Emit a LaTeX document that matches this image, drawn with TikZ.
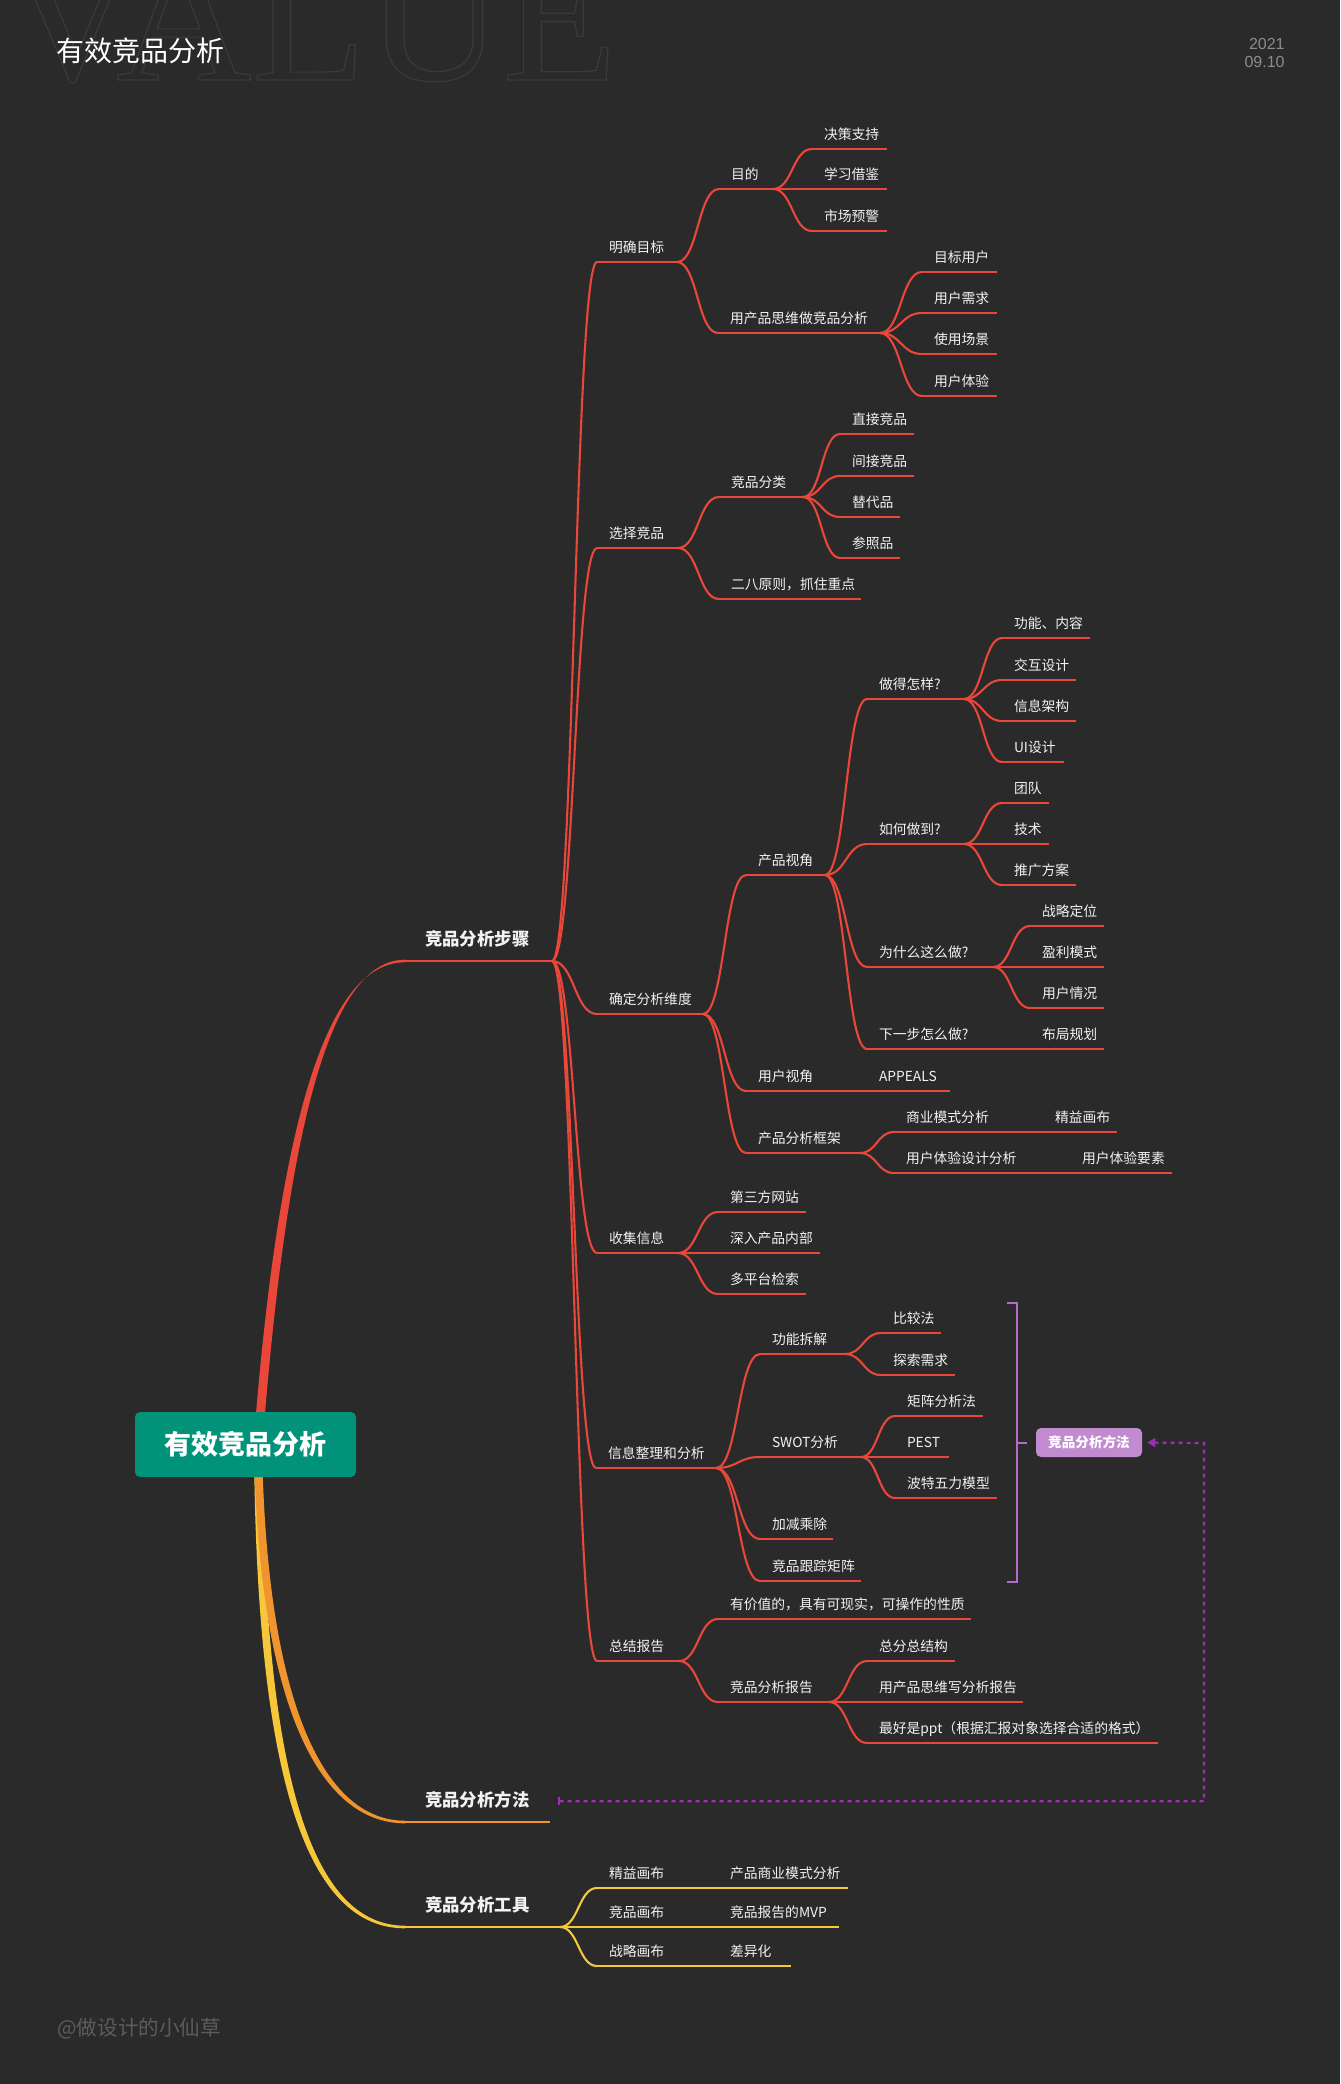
\documentclass[tikz,border=0pt]{standalone}
\usepackage{fontspec}
\newfontfamily\cjk{Noto Sans CJK SC}
\newfontfamily\valfont{Liberation Serif}
\newfontfamily\numfont{Liberation Sans}
\usetikzlibrary{calc,arrows.meta}
\hyphenpenalty=10000
\exhyphenpenalty=10000
\definecolor{bg}{HTML}{2A2A2A}
\definecolor{cred}{HTML}{E8473A}
\definecolor{corange}{HTML}{F0952E}
\definecolor{cyel}{HTML}{F7C73A}
\definecolor{tx}{HTML}{F2F2F2}
\definecolor{rootg}{HTML}{00937A}
\definecolor{lav}{HTML}{C28BD0}
\definecolor{brk}{HTML}{B56BC7}
\definecolor{dotp}{HTML}{9E2FB5}
\definecolor{valc}{HTML}{3A3A3A}
\tikzset{
 mm/.style={anchor=south west, inner xsep=6pt, inner ysep=0pt, outer sep=0pt, align=left,
   text height=7pt, text depth=4.9pt, text=tx,
   font=\cjk\fontsize{6.9}{8}\selectfont},
 mmone/.style={anchor=south west, inner xsep=10pt, inner ysep=0pt, outer sep=0pt, align=left,
   text height=13pt, text depth=7.7pt, text=tx,
   font=\cjk\bfseries\fontsize{8.7}{10}\selectfont},
 ln/.style={line width=1.05pt},
 sc/.style={to path={let \p1=(\tikztostart), \p2=(\tikztotarget) in
   .. controls ({(\x1+\x2)/2},\y1) and ({(\x1+\x2)/2},\y2) .. (\tikztotarget)}},
}
\newcommand\mn[6]{\pgfmathsetmacro\mytw{(#4-#3)*0.5-12}%
 \node[mm, text width=\mytw pt] (#2) at (#3,#5) {#6};
 \draw[ln,draw=#1] (#2.south west) -- (#2.south east);}
\newcommand\mnone[6]{\pgfmathsetmacro\mytw{(#4-#3)*0.5-20}%
 \node[mmone, text width=\mytw pt] (#2) at (#3,#5) {#6};
 \draw[line width=1.3pt,draw=#1] (#2.south west) -- (#2.south east);}
\newcommand\cn[3]{\draw[ln,draw=#1] (#2.south east) to[sc] (#3.south west);}
\begin{document}
\begin{tikzpicture}[x=0.5pt,y=-0.5pt]
\fill[bg] (0,0) rectangle (1340,2084);
\useasboundingbox (0,0) rectangle (1340,2084);
% background lettering
\node[anchor=base west, inner sep=0pt, text=valc] (val) at (4,80)
  {\valfont\fontsize{94}{94}\selectfont\special{pdf:literal direct 1 Tr 0.6 w}VALUE\special{pdf:literal direct 0 Tr}};
% header
\node[anchor=west, inner sep=0pt, text=white, font=\cjk\fontsize{14}{16}\selectfont] (title) at (56,51) {有效竞品分析};
\node[anchor=east, inner sep=0pt, text={rgb,255:red,140;green,140;blue,140}, font=\numfont\fontsize{8}{9}\selectfont] (yr) at (1285,44) {2021};
\node[anchor=east, inner sep=0pt, text={rgb,255:red,140;green,140;blue,140}, font=\numfont\fontsize{8}{9}\selectfont] (dt) at (1285,62) {09.10};
\node[anchor=west, inner sep=0pt, text={rgb,255:red,92;green,92;blue,92}, font=\cjk\fontsize{10.3}{12}\selectfont] (foot) at (57,2029) {@做设计的小仙草};

% level 1
\mnone{cred}{s}{405}{552}{961}{竞品分析步骤}
\mnone{corange}{m}{405}{550}{1822}{竞品分析方法}
\mnone{cyel}{t}{405}{560}{1927}{竞品分析工具}

% root + tapered trunks
\coordinate (rc) at (245.5,1444.5);
\fill[cyel] ($(rc)+(8.5,0)$) .. controls (256,1782) and (308,1928.3) .. ($(t.south west)+(0,1.3)$)
   -- ($(t.south west)+(0,-1.3)$) .. controls (312,1925.7) and (264,1778) .. ($(rc)+(16.5,0)$) -- cycle;
\fill[corange] ($(rc)+(8.5,0)$) .. controls (258,1702) and (318,1823.3) .. ($(m.south west)+(0,1.3)$)
   -- ($(m.south west)+(0,-1.3)$) .. controls (322,1820.7) and (266,1698) .. ($(rc)+(16.5,0)$) -- cycle;
\fill[cred] ($(rc)+(8,0)$) .. controls (280,1100) and (332,962.3) .. ($(s.south west)+(0,1.3)$)
   -- ($(s.south west)+(0,-1.3)$) .. controls (336,959.7) and (289,1100) .. ($(rc)+(17,0)$) -- cycle;
\node[fill=rootg, rounded corners=2.5pt, minimum width=110.5pt, minimum height=32.5pt, inner sep=0pt,
  text=white, font=\cjk\bfseries\fontsize{13.5}{15}\selectfont] (root) at (rc) {有效竞品分析};

% 明确目标
\mn{cred}{a}{597}{677}{262}{明确目标}
\mn{cred}{a1}{719}{773}{189}{目的}
\mn{cred}{a11}{812}{887}{149}{决策支持}
\mn{cred}{a12}{812}{887}{189}{学习借鉴}
\mn{cred}{a13}{812}{887}{231}{市场预警}
\mn{cred}{a2}{718}{880}{333}{用产品思维做竞品分析}
\mn{cred}{a21}{922}{997}{272}{目标用户}
\mn{cred}{a22}{922}{997}{313}{用户需求}
\mn{cred}{a23}{922}{997}{354}{使用场景}
\mn{cred}{a24}{922}{997}{396}{用户体验}
% 选择竞品
\mn{cred}{b}{597}{678}{548}{选择竞品}
\mn{cred}{b1}{719}{803}{497}{竞品分类}
\mn{cred}{b11}{840}{914}{434}{直接竞品}
\mn{cred}{b12}{840}{914}{476}{间接竞品}
\mn{cred}{b13}{840}{900}{517}{替代品}
\mn{cred}{b14}{840}{900}{558}{参照品}
\mn{cred}{b2}{719}{861}{599}{二八原则，抓住重点}
% 确定分析维度
\mn{cred}{c}{597}{703}{1014}{确定分析维度}
\mn{cred}{c1}{746}{825}{875}{产品视角}
\mn{cred}{c11}{867}{964}{699}{做得怎样?}
\mn{cred}{c111}{1002}{1090}{638}{功能、内容}
\mn{cred}{c112}{1002}{1076}{680}{交互设计}
\mn{cred}{c113}{1002}{1076}{721}{信息架构}
\mn{cred}{c114}{1002}{1064}{762}{UI设计}
\mn{cred}{c12}{867}{964}{844}{如何做到?}
\mn{cred}{c121}{1002}{1049}{803}{团队}
\mn{cred}{c122}{1002}{1049}{844}{技术}
\mn{cred}{c123}{1002}{1076}{885}{推广方案}
\mn{cred}{c13}{867}{993}{967}{为什么这么做?}
\mn{cred}{c131}{1030}{1104}{926}{战略定位}
\mn{cred}{c132}{1030}{1104}{967}{盈利模式}
\mn{cred}{c133}{1030}{1104}{1008}{用户情况}
\mn{cred}{c14}{867}{1000}{1049}{下一步怎么做?}
\mn{cred}{c141}{1030}{1104}{1049}{布局规划}
\mn{cred}{c2}{746}{825}{1091}{用户视角}
\mn{cred}{c21}{867}{950}{1091}{APPEALS}
\mn{cred}{c3}{746}{860}{1153}{产品分析框架}
\mn{cred}{c31}{894}{1010}{1132}{商业模式分析}
\mn{cred}{c311}{1043}{1117}{1132}{精益画布}
\mn{cred}{c32}{894}{1040}{1173}{用户体验设计分析}
\mn{cred}{c321}{1070}{1172}{1173}{用户体验要素}
% 收集信息
\mn{cred}{d}{597}{678}{1253}{收集信息}
\mn{cred}{d1}{718}{806}{1212}{第三方网站}
\mn{cred}{d2}{718}{820}{1253}{深入产品内部}
\mn{cred}{d3}{718}{806}{1294}{多平台检索}
% 信息整理和分析
\mn{cred}{e}{596}{716}{1468}{信息整理和分析}
\mn{cred}{e1}{760}{845}{1354}{功能拆解}
\mn{cred}{e11}{881}{941}{1333}{比较法}
\mn{cred}{e12}{881}{955}{1375}{探索需求}
\mn{cred}{e2}{760}{861}{1457}{SWOT分析}
\mn{cred}{e21}{895}{983}{1416}{矩阵分析法}
\mn{cred}{e22}{895}{949}{1457}{PEST}
\mn{cred}{e23}{895}{997}{1498}{波特五力模型}
\mn{cred}{e3}{760}{833}{1539}{加减乘除}
\mn{cred}{e4}{760}{861}{1581}{竞品跟踪矩阵}
% 总结报告
\mn{cred}{f}{597}{679}{1661}{总结报告}
\mn{cred}{f1}{718}{971}{1619}{有价值的，具有可现实，可操作的性质}
\mn{cred}{f2}{718}{829}{1702}{竞品分析报告}
\mn{cred}{f21}{867}{955}{1661}{总分总结构}
\mn{cred}{f22}{867}{1023}{1702}{用产品思维写分析报告}
\mn{cred}{f23}{867}{1158}{1743}{最好是ppt（根据汇报对象选择合适的格式）}
% 工具
\mn{cyel}{t1}{597}{680}{1888}{精益画布}
\mn{cyel}{t11}{718}{848}{1888}{产品商业模式分析}
\mn{cyel}{t2}{597}{680}{1927}{竞品画布}
\mn{cyel}{t21}{718}{839}{1927}{竞品报告的MVP}
\mn{cyel}{t3}{597}{680}{1966}{战略画布}
\mn{cyel}{t31}{718}{791}{1966}{差异化}

% connectors
\foreach \pa/\ch in {s/a,s/b,s/c,s/d,s/e,s/f,
  a/a1,a/a2,a1/a11,a1/a12,a1/a13,a2/a21,a2/a22,a2/a23,a2/a24,
  b/b1,b/b2,b1/b11,b1/b12,b1/b13,b1/b14,
  c/c1,c/c2,c/c3,c1/c11,c1/c12,c1/c13,c1/c14,
  c11/c111,c11/c112,c11/c113,c11/c114,c12/c121,c12/c122,c12/c123,
  c13/c131,c13/c132,c13/c133,c14/c141,c2/c21,c3/c31,c3/c32,c31/c311,c32/c321,
  d/d1,d/d2,d/d3,e/e1,e/e2,e/e3,e/e4,e1/e11,e1/e12,e2/e21,e2/e22,e2/e23,
  f/f1,f/f2,f2/f21,f2/f22,f2/f23}
  {\cn{cred}{\pa}{\ch}}
\foreach \pa/\ch in {t/t1,t/t2,t/t3,t1/t11,t2/t21,t3/t31}
  {\cn{cyel}{\pa}{\ch}}

% summary bracket and callout
\draw[brk, line width=1.1pt] (1007,1303) -- (1017,1303) -- (1017,1582) -- (1007,1582);
\draw[brk, line width=1.1pt] (1017,1443) -- (1027,1443);
\node[fill=lav, rounded corners=2.5pt, minimum width=53pt, minimum height=14.5pt, inner sep=0pt,
  text=white, font=\cjk\bfseries\fontsize{6.8}{8}\selectfont] (callout) at (1089,1442.5) {竞品分析方法};
\coordinate (dc) at (1204,1443);
\draw[dotp, line width=1.1pt, dash pattern=on 2pt off 2pt, shorten <=4pt, shorten >=2.5pt,
  {Bar[width=4pt,line width=1.1pt]}-{Triangle[length=4pt,width=4.5pt]}]
  (m.east) -| (dc) -- (callout.east);
\end{tikzpicture}
\end{document}
